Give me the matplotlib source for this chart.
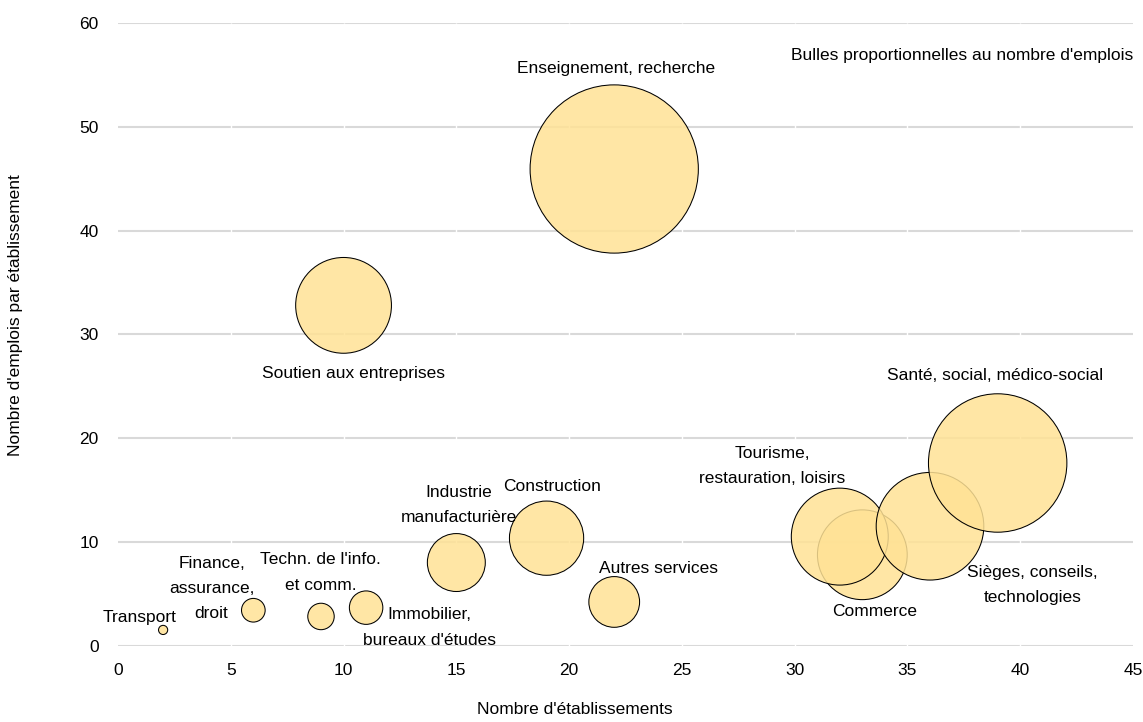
import matplotlib
matplotlib.use("Agg")
import matplotlib.pyplot as plt
from matplotlib import font_manager

# ---- data ----
secteurs = ["Transport", "Finance, assurance, droit", "Techn. de l'info. et comm.",
            "Immobilier, bureaux d'études", "Industrie manufacturière", "Construction",
            "Autres services", "Enseignement, recherche", "Soutien aux entreprises",
            "Commerce", "Tourisme, restauration, loisirs", "Sièges, conseils, technologies",
            "Santé, social, médico-social"]
nb_etablissements = [2.0, 6.0, 9.0, 11.0, 15.0, 19.0, 22.0, 22.0, 10.0, 33.0, 32.0, 36.0, 39.0]
emplois_par_etab = [1.5, 3.4, 2.8, 3.65, 8.0, 10.35, 4.2, 45.95, 32.8, 8.75, 10.5, 11.5, 17.6]
nb_emplois = [3, 20, 25, 40, 120, 197, 92, 1012, 328, 288, 336, 414, 685]

labels_text = ["Transport", "Finance,\nassurance,\ndroit", "Techn. de l'info.\net comm.",
               "Immobilier,\nbureaux d'études", "Industrie\nmanufacturière", "Construction",
               "Autres services", "Enseignement, recherche", "Soutien aux entreprises",
               "Commerce", "Tourisme,\nrestauration, loisirs", "Sièges, conseils,\ntechnologies",
               "Santé, social, médico-social"]
label_x = [0.95, 4.15, 8.99, 13.79, 15.1, 19.25, 23.98, 22.1, 10.46, 33.56, 29.0, 40.55, 38.9]
label_y = [2.72, 5.47, 7.04, 1.74, 13.55, 15.38, 7.47, 55.6, 26.25, 3.26, 17.3, 5.8, 26.0]

x_ticks = [0, 5, 10, 15, 20, 25, 30, 35, 40, 45]
y_ticks = [0, 10, 20, 30, 40, 50, 60]

# ---- fonts ----
avail = {f.name for f in font_manager.fontManager.ttflist}
narrow = "Liberation Sans Narrow" if "Liberation Sans Narrow" in avail else "Liberation Sans"
plt.rcParams["font.family"] = ["Liberation Sans", "DejaVu Sans"]

fig = plt.figure(figsize=(11.43, 7.22), dpi=100)
ax = fig.add_axes([118 / 1143, (722 - 645.5) / 722, (1133 - 118) / 1143, (645.5 - 23.3) / 722])

ax.set_xlim(0, 45)
ax.set_ylim(0, 60)
ax.set_xticks(x_ticks)
ax.set_yticks(y_ticks)
for s in ax.spines.values():
    s.set_visible(False)
ax.grid(axis="y", color="#d9d9d9", linewidth=1.5, zorder=0.5)
ax.set_axisbelow(True)
ax.vlines(x_ticks[1:-1], 0, 60, color="white", linewidth=1.0, zorder=0.7)
ax.tick_params(length=0, labelsize=12.5)
ax.tick_params(axis="y", pad=14)
ax.tick_params(axis="x", pad=12.5)

ax.scatter(nb_etablissements, emplois_par_etab, s=[e * 14.5 for e in nb_emplois],
           facecolor=(1.0, 0.886, 0.584, 0.85), edgecolor="black", linewidth=0.75, zorder=2)

for t, lx, ly in zip(labels_text, label_x, label_y):
    ax.text(lx, ly, t, ha="center", va="center", fontsize=12.5, family=[narrow, "DejaVu Sans"],
            linespacing=1.85, zorder=3)

ax.text(1.0, 56.9, "Bulles proportionnelles au nombre d'emplois", ha="right", va="center",
        fontsize=12.5, family=[narrow, "DejaVu Sans"], transform=ax.get_yaxis_transform())

fig.text(575 / 1143, 1 - 710 / 722, "Nombre d'établissements", ha="center", va="center",
         fontsize=12.5, family=[narrow, "DejaVu Sans"])
fig.text(16 / 1143, 1 - 315 / 722, "Nombre d'emplois par établissement", ha="center", va="center",
         rotation=90, fontsize=12.5, family=[narrow, "DejaVu Sans"])

fig.savefig("out.png", dpi=100)
